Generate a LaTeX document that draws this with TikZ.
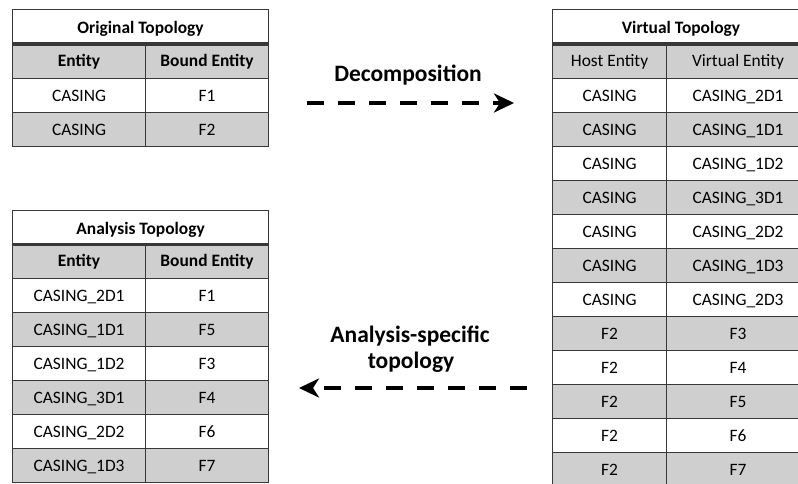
\documentclass[tikz,border=0pt]{standalone}
\usepackage{fontspec}
\setmainfont{Carlito}
\usetikzlibrary{arrows.meta}
\definecolor{rowgray}{gray}{0.81}
\definecolor{gridline}{gray}{0.22}
\begin{document}
\begin{tikzpicture}[x=1pt,y=-1pt,
  cell/.style={draw=gridline, line width=1.1pt, anchor=north west, inner sep=0pt,
    text height=11.3pt, text depth=0pt, font=\fontsize{17.4}{20}\selectfont, text=black},
  titlecell/.style={cell, fill=white, text height=14.3pt, font=\bfseries\fontsize{17.4}{20}\selectfont},
  headcell/.style={cell, fill=rowgray, minimum height=35},
  datacell/.style={cell, minimum height=34},
  thickrule/.style={draw=gridline, line width=3.2pt},
  flowlabel/.style={font=\bfseries\fontsize{23.5}{26}\selectfont, inner sep=0pt},
  flowarrow/.style={line width=4.5pt, dash pattern=on 17pt off 14pt,
    -{Stealth[length=20pt, width=19pt, inset=6pt]}}
]
\useasboundingbox (0,0) rectangle (798,484);

% ---------------- Original Topology ----------------
\node[titlecell, minimum width=256, minimum height=34] (ot) at (12,9) {Original Topology};
\node[headcell, minimum width=133, font=\bfseries\fontsize{17.4}{20}\selectfont] (oh1) at (12,43) {Entity};
\node[headcell, minimum width=123, font=\bfseries\fontsize{17.4}{20}\selectfont] (oh2) at (145,43) {Bound Entity};
\foreach \a/\b [count=\i] in {CASING/F1, CASING/F2}{
  \ifodd\i\def\rf{white}\else\def\rf{rowgray}\fi
  \node[datacell, fill=\rf, minimum width=133] (oa\i) at (12,{78+34*(\i-1)}) {\a};
  \node[datacell, fill=\rf, minimum width=123] (ob\i) at (145,{78+34*(\i-1)}) {\b};
}
\draw[thickrule] (ot.south west) -- (ot.south east);

% ---------------- Virtual Topology ----------------
\node[titlecell, minimum width=257, minimum height=34] (vt) at (552,9) {Virtual Topology};
\node[headcell, minimum width=114] (vh1) at (552,43) {Host Entity};
\node[headcell, minimum width=143] (vh2) at (666,43) {Virtual Entity};
\foreach \a/\b [count=\i] in {CASING/CASING\_2D1, CASING/CASING\_1D1, CASING/CASING\_1D2,
    CASING/CASING\_3D1, CASING/CASING\_2D2, CASING/CASING\_1D3, CASING/CASING\_2D3,
    F2/F3, F2/F4, F2/F5, F2/F6, F2/F7}{
  \ifodd\i\def\rf{white}\else\def\rf{rowgray}\fi
  \node[datacell, fill=\rf, minimum width=114] (va\i) at (552,{78+34*(\i-1)}) {\a};
  \node[datacell, fill=\rf, minimum width=143] (vb\i) at (666,{78+34*(\i-1)}) {\b};
}
\draw[thickrule] (vt.south west) -- (vt.south east);

% ---------------- Analysis Topology ----------------
\node[titlecell, minimum width=256, minimum height=33] (at) at (12,210) {Analysis Topology};
\node[headcell, minimum width=133, font=\bfseries\fontsize{17.4}{20}\selectfont] (ah1) at (12,243) {Entity};
\node[headcell, minimum width=123, font=\bfseries\fontsize{17.4}{20}\selectfont] (ah2) at (145,243) {Bound Entity};
\foreach \a/\b [count=\i] in {CASING\_2D1/F1, CASING\_1D1/F5, CASING\_1D2/F3,
    CASING\_3D1/F4, CASING\_2D2/F6, CASING\_1D3/F7}{
  \ifodd\i\def\rf{white}\else\def\rf{rowgray}\fi
  \node[datacell, fill=\rf, minimum width=133] (aa\i) at (12,{278+34*(\i-1)}) {\a};
  \node[datacell, fill=\rf, minimum width=123] (ab\i) at (145,{278+34*(\i-1)}) {\b};
}
\draw[thickrule] (at.south west) -- (at.south east);

% ---------------- Arrows ----------------
\node[flowlabel, anchor=base] (dlab) at (408,82) {Decomposition};
\coordinate (ds) at (307,103);
\coordinate (de) at (514,103);
\draw[flowarrow] (ds) -- (de);

\node[flowlabel, anchor=base] (alab1) at (410,342) {Analysis-specific};
\node[flowlabel, anchor=base] (alab2) at (411,368) {topology};
\coordinate (as) at (527,388);
\coordinate (ae) at (299,388);
\draw[flowarrow] (as) -- (ae);
\end{tikzpicture}
\end{document}
